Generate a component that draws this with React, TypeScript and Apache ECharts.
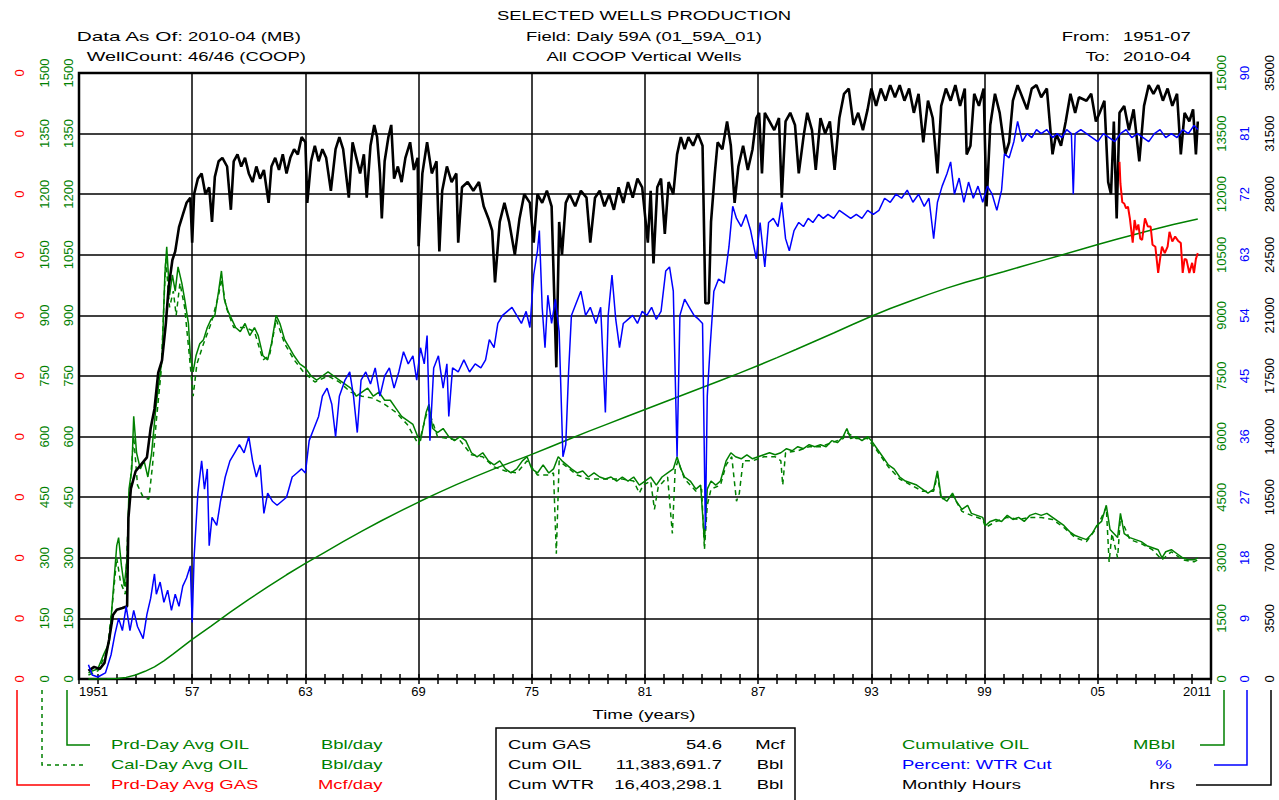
import React, { useEffect, useRef } from "react";
import * as echarts from "echarts";

// ---------- data ----------
const xMin = 1951;
const xMax = 2011;

// Monthly Hours (hrs), right black axis 0-35000
const monthlyHours: [number, number][] = [
  [1951.5, 470], [1951.8, 700], [1952.1, 580], [1952.35, 930], [1952.6, 2300], [1952.8, 3700],
  [1953.0, 4000], [1953.3, 4100], [1953.55, 4200], [1953.62, 9300], [1953.75, 11000], [1954.0, 12000],
  [1954.3, 12400], [1954.6, 12800], [1954.8, 14500], [1955.0, 15600], [1955.2, 17700], [1955.4, 18400],
  [1955.6, 20500], [1955.75, 22600], [1955.95, 24200], [1956.1, 24700], [1956.3, 26100], [1956.5, 26800],
  [1956.7, 27500], [1956.9, 27800], [1957.0, 25200], [1957.1, 28000], [1957.3, 28900], [1957.5, 29200],
  [1957.7, 28000], [1957.9, 28400], [1958.05, 26400], [1958.2, 29000], [1958.4, 29900], [1958.6, 30100],
  [1958.85, 29600], [1959.05, 27100], [1959.2, 29900], [1959.4, 30300], [1959.6, 29600], [1959.8, 30100],
  [1960.0, 29200], [1960.2, 28700], [1960.4, 29600], [1960.6, 28900], [1960.8, 29400], [1961.05, 27500],
  [1961.2, 29600], [1961.4, 30100], [1961.6, 29400], [1961.8, 30300], [1962.0, 29200], [1962.2, 30100],
  [1962.4, 30600], [1962.6, 30300], [1962.8, 31300], [1963.0, 31000], [1963.1, 27500], [1963.3, 29900],
  [1963.5, 30800], [1963.7, 29900], [1963.9, 30600], [1964.1, 30100], [1964.35, 28200], [1964.6, 30600],
  [1964.8, 31300], [1965.0, 30600], [1965.3, 27800], [1965.5, 31000], [1965.7, 30100], [1965.9, 29200],
  [1966.1, 30300], [1966.25, 27800], [1966.45, 30800], [1966.65, 32000], [1966.8, 31300], [1966.95, 29200],
  [1967.05, 26600], [1967.2, 29900], [1967.4, 31300], [1967.55, 32000], [1967.7, 28900], [1967.9, 29600],
  [1968.1, 28700], [1968.3, 30100], [1968.55, 31000], [1968.75, 29400], [1968.95, 30100], [1969.0, 25000],
  [1969.2, 29200], [1969.45, 31000], [1969.7, 29200], [1969.95, 29900], [1970.1, 24700], [1970.25, 28200],
  [1970.5, 29600], [1970.75, 28700], [1971.0, 29200], [1971.1, 25200], [1971.3, 28400], [1971.6, 28700],
  [1971.9, 28200], [1972.2, 28700], [1972.45, 27300], [1972.7, 26600], [1972.9, 25900], [1973.05, 22900],
  [1973.3, 26400], [1973.55, 27500], [1973.8, 26400], [1974.1, 24500], [1974.35, 26600], [1974.6, 28000],
  [1974.9, 27500], [1975.1, 25200], [1975.3, 28000], [1975.55, 27500], [1975.8, 28200], [1976.05, 27300],
  [1976.3, 18000], [1976.45, 26400], [1976.6, 24500], [1976.8, 27500], [1977.0, 28000], [1977.3, 27300],
  [1977.6, 28200], [1977.9, 27800], [1978.1, 25200], [1978.35, 27800], [1978.6, 28200], [1978.85, 27300],
  [1979.1, 28000], [1979.35, 27100], [1979.6, 28400], [1979.85, 27500], [1980.1, 28700], [1980.35, 27800],
  [1980.6, 28900], [1980.85, 28400], [1981.15, 25200], [1981.3, 28200], [1981.45, 24000], [1981.65, 28400],
  [1981.85, 28900], [1982.05, 25700], [1982.25, 28700], [1982.5, 28000], [1982.7, 30300], [1982.9, 31300],
  [1983.1, 30600], [1983.3, 31300], [1983.55, 30800], [1983.8, 31500], [1984.05, 30800], [1984.2, 21700],
  [1984.38, 21700], [1984.5, 26400], [1984.7, 29200], [1984.85, 31000], [1985.1, 30600], [1985.35, 32200],
  [1985.55, 30800], [1985.75, 27500], [1985.95, 29600], [1986.2, 30800], [1986.45, 29400], [1986.7, 30600],
  [1986.9, 32400], [1987.05, 32700], [1987.2, 29200], [1987.35, 32700], [1987.6, 32200], [1987.85, 31700],
  [1988.1, 32400], [1988.25, 27800], [1988.45, 32200], [1988.7, 32700], [1988.95, 32000], [1989.15, 29200],
  [1989.4, 31300], [1989.6, 32700], [1989.85, 31700], [1990.05, 29400], [1990.3, 32400], [1990.55, 31500],
  [1990.8, 32200], [1991.05, 29400], [1991.3, 32400], [1991.55, 33800], [1991.8, 34100], [1992.05, 32000],
  [1992.3, 32700], [1992.55, 31700], [1992.8, 32900], [1993.0, 34100], [1993.25, 33100], [1993.5, 34100],
  [1993.75, 33400], [1994.0, 34300], [1994.25, 33600], [1994.5, 34300], [1994.75, 33400], [1995.0, 34100],
  [1995.25, 32700], [1995.5, 33800], [1995.75, 31000], [1996.0, 33400], [1996.25, 32400], [1996.5, 29200],
  [1996.7, 33100], [1996.95, 34100], [1997.2, 33400], [1997.45, 34300], [1997.7, 33100], [1997.95, 34100],
  [1998.05, 30300], [1998.25, 30800], [1998.45, 33800], [1998.7, 33100], [1998.95, 34100], [1999.1, 27300],
  [1999.3, 32000], [1999.55, 33800], [1999.8, 32700], [2000.1, 30300], [2000.3, 31000], [2000.5, 33400],
  [2000.75, 34300], [2001.0, 33600], [2001.25, 32900], [2001.5, 34100], [2001.75, 34300], [2002.0, 33600],
  [2002.3, 34100], [2002.6, 30300], [2002.8, 31500], [2003.05, 30800], [2003.3, 32200], [2003.55, 33800],
  [2003.8, 32700], [2004.0, 33600], [2004.4, 33400], [2004.65, 33800], [2004.9, 32200], [2005.1, 32700],
  [2005.35, 33400], [2005.55, 28700], [2005.7, 28000], [2005.85, 32200], [2006.0, 26600], [2006.15, 32700],
  [2006.4, 33100], [2006.65, 31700], [2006.9, 32900], [2007.2, 29900], [2007.45, 33100], [2007.7, 34300],
  [2007.95, 33800], [2008.2, 34300], [2008.45, 33400], [2008.7, 34100], [2008.95, 33100], [2009.2, 33800],
  [2009.4, 30300], [2009.6, 32700], [2009.85, 32200], [2010.05, 32900], [2010.2, 30300], [2010.3, 32200],
];

// Percent WTR cut (%), right blue axis 0-90
const waterCut: [number, number][] = [
  [1951.5, 2.1], [1951.7, 0.6], [1952.0, 0.3], [1952.4, 0.9], [1952.7, 3.6], [1952.9, 6.6],
  [1953.1, 9.0], [1953.3, 7.2], [1953.5, 10.8], [1953.7, 7.2], [1953.9, 10.2], [1954.1, 7.8],
  [1954.4, 6.0], [1954.6, 9.6], [1954.8, 12.0], [1955.0, 15.6], [1955.1, 12.6], [1955.3, 14.4],
  [1955.5, 11.4], [1955.7, 13.2], [1955.9, 10.2], [1956.1, 12.6], [1956.3, 10.8], [1956.5, 13.8],
  [1956.7, 15.0], [1956.9, 16.8], [1957.0, 8.4], [1957.1, 18.0], [1957.3, 27.6], [1957.5, 32.4],
  [1957.65, 28.2], [1957.8, 31.2], [1957.9, 19.8], [1958.05, 24.0], [1958.3, 22.8], [1958.5, 26.4],
  [1958.75, 30.0], [1959.0, 32.4], [1959.25, 33.6], [1959.5, 34.8], [1959.75, 33.6], [1960.0, 36.0],
  [1960.2, 32.4], [1960.4, 30.0], [1960.6, 31.8], [1960.8, 24.6], [1961.0, 27.6], [1961.25, 26.4],
  [1961.5, 25.8], [1961.75, 26.4], [1962.0, 27.0], [1962.3, 30.0], [1962.55, 30.6], [1962.8, 31.2],
  [1963.0, 30.6], [1963.2, 35.4], [1963.45, 37.2], [1963.7, 39.0], [1963.9, 42.0], [1964.15, 43.2],
  [1964.4, 40.8], [1964.6, 36.0], [1964.8, 42.0], [1965.1, 44.4], [1965.35, 45.6], [1965.55, 42.0],
  [1965.75, 36.6], [1965.95, 44.4], [1966.2, 45.6], [1966.45, 43.8], [1966.7, 46.2], [1966.95, 42.0],
  [1967.2, 45.0], [1967.45, 46.2], [1967.7, 43.2], [1967.95, 45.6], [1968.2, 48.6], [1968.45, 46.8],
  [1968.7, 48.0], [1968.9, 44.4], [1969.1, 49.2], [1969.3, 46.8], [1969.45, 51.0], [1969.6, 35.4],
  [1969.8, 46.2], [1970.05, 48.0], [1970.3, 43.2], [1970.5, 46.8], [1970.6, 39.0], [1970.8, 46.2],
  [1971.1, 45.6], [1971.4, 47.4], [1971.7, 45.6], [1972.0, 46.8], [1972.3, 46.2], [1972.55, 47.4],
  [1972.75, 50.4], [1973.0, 49.2], [1973.2, 52.8], [1973.45, 54.0], [1973.7, 54.6], [1973.95, 55.2],
  [1974.2, 54.0], [1974.45, 52.8], [1974.7, 54.6], [1974.9, 52.2], [1975.1, 60.0], [1975.3, 63.6],
  [1975.4, 66.6], [1975.55, 55.2], [1975.7, 49.2], [1975.85, 57.0], [1976.05, 52.8], [1976.25, 56.4],
  [1976.45, 51.6], [1976.65, 33.0], [1976.8, 34.8], [1976.95, 45.6], [1977.1, 54.0], [1977.35, 55.8],
  [1977.6, 57.6], [1977.85, 54.0], [1978.1, 55.2], [1978.4, 52.8], [1978.65, 55.2], [1978.9, 39.6],
  [1979.05, 54.0], [1979.25, 60.0], [1979.45, 53.4], [1979.65, 49.2], [1979.85, 52.8], [1980.1, 53.4],
  [1980.35, 54.0], [1980.6, 52.8], [1980.85, 54.6], [1981.1, 54.0], [1981.35, 55.2], [1981.6, 53.4],
  [1981.85, 54.6], [1982.1, 60.6], [1982.3, 61.2], [1982.5, 57.6], [1982.7, 33.0], [1982.85, 54.0],
  [1983.1, 56.4], [1983.35, 55.2], [1983.6, 54.0], [1983.85, 53.4], [1984.05, 52.8], [1984.2, 22.2],
  [1984.3, 42.0], [1984.45, 49.2], [1984.65, 57.6], [1984.9, 59.4], [1985.2, 58.8], [1985.45, 64.2],
  [1985.65, 70.2], [1985.85, 68.4], [1986.1, 67.2], [1986.35, 69.0], [1986.6, 66.6], [1986.9, 62.4],
  [1987.1, 67.8], [1987.35, 61.2], [1987.55, 67.8], [1987.8, 68.4], [1988.05, 67.2], [1988.25, 70.8],
  [1988.45, 65.4], [1988.65, 63.6], [1988.9, 66.6], [1989.15, 67.8], [1989.4, 67.2], [1989.65, 68.4],
  [1989.9, 67.8], [1990.2, 69.0], [1990.45, 68.4], [1990.7, 69.0], [1991.0, 68.4], [1991.3, 69.6],
  [1991.6, 69.0], [1991.9, 68.4], [1992.2, 69.0], [1992.5, 68.4], [1992.8, 69.6], [1993.1, 69.0],
  [1993.4, 69.6], [1993.7, 71.4], [1994.0, 70.8], [1994.3, 72.0], [1994.6, 71.4], [1994.9, 72.6],
  [1995.2, 70.8], [1995.5, 72.0], [1995.8, 70.2], [1996.05, 71.4], [1996.3, 65.4], [1996.5, 70.8],
  [1996.75, 73.2], [1997.0, 75.0], [1997.2, 76.8], [1997.4, 72.0], [1997.65, 74.4], [1997.9, 70.8],
  [1998.15, 73.8], [1998.4, 71.4], [1998.65, 73.2], [1998.9, 70.8], [1999.15, 73.2], [1999.4, 72.0],
  [1999.65, 69.6], [1999.9, 72.6], [2000.05, 78.0], [2000.3, 77.4], [2000.55, 79.8], [2000.75, 82.8],
  [2001.0, 79.8], [2001.25, 81.0], [2001.5, 80.4], [2001.75, 81.6], [2002.0, 81.0], [2002.3, 81.6],
  [2002.6, 80.4], [2002.85, 81.0], [2003.1, 80.4], [2003.35, 81.6], [2003.6, 81.0], [2003.7, 72.0],
  [2003.8, 81.0], [2004.1, 81.6], [2004.4, 81.0], [2004.7, 80.4], [2005.0, 79.8], [2005.3, 81.0],
  [2005.6, 80.4], [2005.9, 79.8], [2006.2, 81.0], [2006.5, 81.6], [2006.8, 80.4], [2007.1, 81.0],
  [2007.4, 80.4], [2007.7, 79.8], [2008.0, 81.0], [2008.3, 81.6], [2008.6, 80.4], [2008.9, 81.0],
  [2009.2, 80.4], [2009.5, 81.6], [2009.8, 81.0], [2010.1, 82.2], [2010.3, 81.6],
];

// Prd-Day Avg OIL (Bbl/day), left green axis 0-1500
const prdDayOil: [number, number][] = [
  [1951.5, 15], [1951.7, 20], [1952.0, 25], [1952.3, 60], [1952.6, 90], [1952.75, 180],
  [1952.85, 240], [1953.0, 330], [1953.1, 350], [1953.25, 280], [1953.4, 230], [1953.55, 300],
  [1953.65, 470], [1953.8, 520], [1953.9, 650], [1954.05, 560], [1954.25, 520], [1954.45, 540],
  [1954.65, 500], [1954.85, 560], [1955.05, 660], [1955.25, 740], [1955.4, 790], [1955.55, 1000],
  [1955.65, 1070], [1955.8, 950], [1955.95, 1000], [1956.1, 960], [1956.25, 1020], [1956.45, 980],
  [1956.6, 940], [1956.8, 880], [1956.9, 800], [1957.05, 760], [1957.2, 800], [1957.4, 830],
  [1957.6, 840], [1957.8, 870], [1958.0, 890], [1958.2, 900], [1958.4, 960], [1958.55, 1010],
  [1958.7, 940], [1958.9, 910], [1959.1, 890], [1959.3, 870], [1959.55, 860], [1959.8, 880],
  [1960.05, 850], [1960.3, 870], [1960.5, 850], [1960.75, 800], [1961.0, 790], [1961.2, 830],
  [1961.45, 900], [1961.65, 880], [1961.9, 840], [1962.15, 820], [1962.4, 800], [1962.7, 780],
  [1963.0, 770], [1963.3, 750], [1963.6, 740], [1963.9, 750], [1964.2, 760], [1964.5, 750],
  [1964.8, 740], [1965.1, 730], [1965.4, 720], [1965.7, 700], [1966.0, 710], [1966.3, 720],
  [1966.6, 700], [1966.9, 710], [1967.2, 690], [1967.5, 690], [1967.8, 670], [1968.1, 650],
  [1968.4, 640], [1968.7, 630], [1968.95, 600], [1969.1, 590], [1969.4, 660], [1969.55, 680],
  [1969.75, 620], [1970.0, 610], [1970.3, 620], [1970.6, 600], [1970.9, 590], [1971.2, 600],
  [1971.5, 590], [1971.8, 560], [1972.1, 550], [1972.4, 560], [1972.7, 540], [1973.0, 530],
  [1973.3, 540], [1973.6, 520], [1973.9, 510], [1974.2, 520], [1974.5, 540], [1974.75, 550],
  [1975.0, 520], [1975.3, 510], [1975.6, 530], [1975.9, 510], [1976.15, 520], [1976.4, 550],
  [1976.6, 540], [1976.85, 530], [1977.1, 520], [1977.4, 510], [1977.7, 515], [1978.0, 500],
  [1978.3, 510], [1978.6, 500], [1978.9, 495], [1979.2, 500], [1979.5, 490], [1979.8, 500],
  [1980.1, 490], [1980.4, 500], [1980.7, 480], [1981.0, 490], [1981.3, 500], [1981.6, 480],
  [1981.9, 500], [1982.2, 510], [1982.5, 520], [1982.7, 550], [1982.9, 520], [1983.1, 500],
  [1983.4, 490], [1983.7, 470], [1983.95, 480], [1984.15, 340], [1984.3, 470], [1984.5, 490],
  [1984.75, 480], [1985.0, 490], [1985.3, 540], [1985.55, 560], [1985.8, 550], [1986.1, 545],
  [1986.4, 555], [1986.7, 545], [1987.0, 550], [1987.3, 555], [1987.6, 560], [1987.9, 555],
  [1988.2, 560], [1988.5, 570], [1988.8, 565], [1989.1, 575], [1989.4, 570], [1989.7, 580],
  [1990.0, 575], [1990.3, 580], [1990.6, 575], [1990.9, 590], [1991.2, 585], [1991.5, 600],
  [1991.7, 620], [1991.9, 595], [1992.2, 600], [1992.5, 590], [1992.8, 600], [1993.0, 590],
  [1993.3, 570], [1993.6, 550], [1993.9, 530], [1994.2, 520], [1994.5, 500], [1994.8, 490],
  [1995.1, 485], [1995.4, 480], [1995.7, 470], [1996.0, 460], [1996.3, 470], [1996.5, 515],
  [1996.7, 450], [1997.0, 440], [1997.3, 460], [1997.5, 440], [1997.8, 420], [1998.1, 430],
  [1998.3, 410], [1998.6, 405], [1998.9, 400], [1999.05, 380], [1999.3, 390], [1999.6, 395],
  [1999.9, 390], [2000.2, 405], [2000.5, 395], [2000.8, 400], [2001.1, 390], [2001.4, 405],
  [2001.7, 410], [2002.0, 405], [2002.3, 410], [2002.6, 400], [2002.9, 390], [2003.2, 380],
  [2003.5, 365], [2003.8, 355], [2004.1, 350], [2004.4, 345], [2004.7, 360], [2004.95, 380],
  [2005.2, 390], [2005.45, 430], [2005.65, 370], [2005.85, 360], [2006.05, 350], [2006.2, 410],
  [2006.4, 360], [2006.7, 350], [2007.0, 345], [2007.3, 340], [2007.6, 330], [2007.9, 325],
  [2008.2, 320], [2008.4, 300], [2008.6, 315], [2008.9, 320], [2009.2, 310], [2009.5, 300],
  [2009.8, 295], [2010.1, 295], [2010.3, 300],
];

// Cal-Day Avg OIL (Bbl/day), dashed
const calDayOil: [number, number][] = [
  [1951.5, 10], [1952.0, 20], [1952.5, 70], [1952.8, 200], [1953.0, 300], [1953.2, 240],
  [1953.45, 210], [1953.65, 440], [1953.9, 600], [1954.1, 480], [1954.4, 450], [1954.7, 445],
  [1954.9, 530], [1955.1, 640], [1955.35, 760], [1955.6, 1040], [1955.8, 920], [1956.0, 960],
  [1956.15, 900], [1956.35, 980], [1956.6, 920], [1956.85, 800], [1957.05, 700], [1957.25, 780],
  [1957.6, 830], [1958.0, 880], [1958.4, 950], [1958.55, 990], [1958.8, 920], [1959.2, 870],
  [1959.8, 870], [1960.3, 860], [1960.75, 790], [1961.1, 800], [1961.45, 890], [1961.9, 830],
  [1962.4, 790], [1962.9, 760], [1963.5, 735], [1964.2, 750], [1964.8, 735], [1965.4, 710],
  [1966.0, 700], [1966.6, 695], [1967.2, 680], [1967.8, 660], [1968.4, 630], [1969.0, 580],
  [1969.5, 670], [1970.0, 600], [1970.6, 595], [1971.2, 590], [1971.8, 555], [1972.4, 550],
  [1973.0, 525], [1973.6, 515], [1974.2, 510], [1974.75, 540], [1975.3, 505], [1975.9, 505],
  [1976.15, 510], [1976.3, 310], [1976.45, 540], [1976.85, 525], [1977.4, 505], [1978.0, 495],
  [1978.6, 495], [1979.2, 495], [1979.8, 495], [1980.4, 490], [1980.7, 460], [1980.9, 480],
  [1981.3, 490], [1981.5, 420], [1981.7, 475], [1982.2, 500], [1982.45, 360], [1982.6, 520],
  [1982.75, 540], [1983.1, 495], [1983.7, 465], [1984.0, 470], [1984.15, 320], [1984.3, 430],
  [1984.5, 470], [1985.0, 480], [1985.3, 530], [1985.6, 550], [1985.85, 440], [1986.0, 460],
  [1986.2, 540], [1986.7, 540], [1987.3, 550], [1987.9, 550], [1988.2, 540], [1988.3, 480],
  [1988.45, 560], [1989.1, 565], [1989.7, 575], [1990.3, 575], [1990.9, 585], [1991.5, 595],
  [1991.7, 610], [1992.2, 595], [1992.8, 595], [1993.3, 565], [1993.9, 525], [1994.5, 495],
  [1995.1, 480], [1995.7, 465], [1996.3, 465], [1996.5, 505], [1996.7, 445], [1997.3, 455],
  [1997.8, 415], [1998.3, 405], [1998.9, 395], [1999.05, 375], [1999.6, 390], [2000.2, 400],
  [2000.8, 395], [2001.4, 400], [2002.0, 400], [2002.6, 395], [2003.2, 375], [2003.8, 350],
  [2004.4, 340], [2004.95, 375], [2005.45, 425], [2005.6, 290], [2005.75, 360], [2006.05, 300],
  [2006.2, 400], [2006.7, 345], [2007.3, 335], [2007.9, 320], [2008.4, 295], [2008.9, 315],
  [2009.5, 295], [2010.1, 290], [2010.3, 295],
];

// Prd-Day Avg GAS (Mcf/day), left red axis
const prdDayGas: [number, number][] = [
  [2006.15, 0.128], [2006.2, 0.1226], [2006.3, 0.118], [2006.4, 0.1177], [2006.5, 0.1165],
  [2006.6, 0.1169], [2006.7, 0.114], [2006.85, 0.108], [2006.95, 0.1136], [2007.05, 0.1111],
  [2007.15, 0.1125], [2007.25, 0.109], [2007.35, 0.1087], [2007.5, 0.114], [2007.65, 0.112],
  [2007.8, 0.112], [2007.9, 0.1075], [2008.05, 0.107], [2008.2, 0.1005], [2008.3, 0.104],
  [2008.4, 0.107], [2008.55, 0.1054], [2008.7, 0.107], [2008.8, 0.1107], [2008.95, 0.1083],
  [2009.1, 0.1095], [2009.25, 0.1085], [2009.4, 0.1079], [2009.5, 0.1005], [2009.6, 0.104],
  [2009.7, 0.1038], [2009.85, 0.1005], [2010.0, 0.103], [2010.1, 0.1005], [2010.2, 0.104],
  [2010.3, 0.1054],
];

// Cumulative OIL (MBbl), right green axis 0-15000
const cumOil: [number, number][] = [
  [1951.5, 0], [1952.0, 2], [1952.5, 6], [1953.0, 15], [1953.5, 40], [1954.0, 100], [1954.5, 190],
  [1955.0, 300], [1955.5, 450], [1956.0, 620], [1956.5, 800], [1957.0, 980], [1958.0, 1310],
  [1959.0, 1650], [1960.0, 1970], [1961.0, 2280], [1962.0, 2580], [1963.0, 2860], [1964.0, 3130],
  [1965.0, 3400], [1966.0, 3660], [1967.0, 3910], [1968.0, 4150], [1969.0, 4380], [1970.0, 4600],
  [1971.0, 4810], [1972.0, 5010], [1973.0, 5200], [1974.0, 5380], [1975.0, 5560], [1976.0, 5750],
  [1977.0, 5940], [1978.0, 6130], [1979.0, 6310], [1980.0, 6490], [1981.0, 6670], [1982.0, 6850],
  [1983.0, 7030], [1984.0, 7210], [1985.0, 7390], [1986.0, 7570], [1987.0, 7760], [1988.0, 7955],
  [1989.0, 8155], [1990.0, 8360], [1991.0, 8565], [1992.0, 8775], [1993.0, 8980], [1994.0, 9170],
  [1995.0, 9345], [1996.0, 9515], [1997.0, 9675], [1998.0, 9820], [1999.0, 9950], [2000.0, 10080],
  [2001.0, 10215], [2002.0, 10350], [2003.0, 10485], [2004.0, 10620], [2005.0, 10755],
  [2006.0, 10885], [2007.0, 11010], [2008.0, 11130], [2009.0, 11250], [2010.3, 11384],
];

const headerLeft = [["Data As Of:", "2010-04 (MB)"], ["WellCount:", "46/46 (COOP)"]];
const headerCenter = ["SELECTED WELLS PRODUCTION", "Field: Daly 59A (01_59A_01)", "All COOP Vertical Wells"];
const headerRight = [["From:", "1951-07"], ["To:", "2010-04"]];
const cumRows = [["Cum GAS", "54.6", "Mcf"], ["Cum OIL", "11,383,691.7", "Bbl"], ["Cum WTR", "16,403,298.1", "Bbl"]];

const GREEN = "#008000";
const BLUE = "#0000ff";
const RED = "#ff0000";
const BLACK = "#000000";
const FONT = '"Liberation Sans", Arial, sans-serif';
const SX = 1.42;

function txt(text: string, x: number, y: number, align = "left", fill = BLACK, sx = SX) {
  return {
    type: "text",
    x,
    y,
    scaleX: sx,
    silent: true,
    style: {
      text,
      fill,
      font: `13px ${FONT}`,
      textAlign: align,
      textVerticalAlign: "middle",
      verticalAlign: "middle",
    },
  };
}

function pl(points: number[][], stroke: string, dash?: number[]) {
  return {
    type: "polyline",
    silent: true,
    shape: { points },
    style: { stroke, lineWidth: 1.5, fill: null, lineDash: dash || null },
  };
}

function yAx(opts: any) {
  const { color, offset, position, min, max, interval, formatter, split } = opts;
  return {
    type: "value",
    position,
    offset,
    min,
    max,
    interval,
    axisLine: { show: false },
    axisTick: { show: false },
    splitLine: { show: !!split, lineStyle: { color: BLACK, width: 1.5 } },
    axisLabel: {
      show: true,
      rotate: 90,
      color,
      fontFamily: FONT,
      fontSize: 13,
      margin: 4,
      hideOverlap: false,
      showMinLabel: true,
      showMaxLabel: true,
      formatter: formatter || ((v: number) => String(v)),
    },
  };
}

export default function App() {
  const ref = useRef<HTMLDivElement>(null);
  useEffect(() => {
    if (!ref.current) return;
    const chart = echarts.init(ref.current, null, { renderer: "svg" });

    const xCommon = {
      type: "value",
      min: xMin,
      max: xMax,
      interval: 6,
      axisLine: { show: false },
      axisTick: { show: true, inside: true, length: 5, lineStyle: { color: BLACK, width: 1.5 } },
      minorTick: { show: true, splitNumber: 6, length: 5, lineStyle: { color: BLACK, width: 1.5 } },
    };

    const graphic: any[] = [];
    headerLeft.forEach((r, i) => {
      graphic.push(txt(r[0], 183, 37 + i * 20, "right", BLACK, i === 0 ? 1.6 : 1.52));
      graphic.push(txt(r[1], 188, 37 + i * 20, "left"));
    });
    headerCenter.forEach((t, i) => graphic.push(txt(t, 644, 16 + i * 20.5, "center")));
    headerRight.forEach((r, i) => {
      graphic.push(txt(r[0], 1110, 37 + i * 20, "right"));
      graphic.push(txt(r[1], 1123, 37 + i * 20, "left"));
    });
    graphic.push(txt("Time (years)", 644, 715, "center"));

    // left legend
    graphic.push(pl([[67, 690], [67, 745], [90, 745]], GREEN));
    graphic.push(pl([[42, 690], [42, 765], [84, 765]], GREEN, [4, 4]));
    graphic.push(pl([[17, 690], [17, 785], [90, 785]], RED));
    graphic.push(txt("Prd-Day Avg OIL", 111, 745, "left", GREEN));
    graphic.push(txt("Cal-Day Avg OIL", 111, 765, "left", GREEN));
    graphic.push(txt("Prd-Day Avg GAS", 111, 785, "left", RED));
    graphic.push(txt("Bbl/day", 321, 745, "left", GREEN));
    graphic.push(txt("Bbl/day", 321, 765, "left", GREEN));
    graphic.push(txt("Mcf/day", 318, 785, "left", RED));

    // center box
    graphic.push({
      type: "rect",
      silent: true,
      shape: { x: 496, y: 728, width: 299, height: 80 },
      style: { stroke: BLACK, lineWidth: 1.5, fill: null },
    });
    cumRows.forEach((r, i) => {
      const y = 745 + i * 20;
      graphic.push(txt(r[0], 508, y, "left"));
      graphic.push(txt(r[1], 722, y, "right"));
      graphic.push(txt(r[2], 770, y, "center"));
    });

    // right legend
    graphic.push(pl([[1200, 745], [1224, 745], [1224, 690]], GREEN));
    graphic.push(pl([[1214, 765], [1247, 765], [1247, 690]], BLUE));
    graphic.push(pl([[1196, 785], [1271, 785], [1271, 690]], BLACK));
    graphic.push(txt("Cumulative OIL", 902, 745, "left", GREEN));
    graphic.push(txt("Percent: WTR Cut", 902, 765, "left", BLUE));
    graphic.push(txt("Monthly Hours", 902, 785, "left", BLACK));
    graphic.push(txt("MBbl", 1175, 745, "right", GREEN));
    graphic.push(txt("%", 1172, 765, "right", BLUE));
    graphic.push(txt("hrs", 1175, 785, "right", BLACK));

    const line = (name: string, data: any, yAxisIndex: number, color: string, width: number, extra: any = {}) => ({
      name,
      type: "line",
      data,
      yAxisIndex,
      xAxisIndex: 0,
      showSymbol: false,
      symbol: "none",
      lineStyle: { color, width, ...(extra.lineStyle || {}) },
      itemStyle: { color },
      z: extra.z || 2,
      silent: true,
    });

    chart.setOption({
      animation: false,
      backgroundColor: "#ffffff",
      textStyle: { fontFamily: FONT },
      grid: {
        left: 79,
        right: 68,
        top: 73,
        bottom: 121,
        show: true,
        borderColor: BLACK,
        borderWidth: 2.5,
        backgroundColor: "transparent",
      },
      xAxis: [
        {
          ...xCommon,
          position: "bottom",
          splitLine: { show: true, lineStyle: { color: BLACK, width: 1.5 } },
          axisLabel: {
            show: true,
            color: BLACK,
            fontFamily: FONT,
            fontSize: 13,
            margin: 6,
            alignMinLabel: "left",
            alignMaxLabel: "right",
            showMinLabel: true,
            showMaxLabel: true,
            formatter: (v: number) => (v === xMin || v === xMax ? String(v) : String(v).slice(2)),
          },
        },
        {
          ...xCommon,
          position: "top",
          splitLine: { show: false },
          axisLabel: { show: false },
        },
      ],
      yAxis: [
        yAx({ color: GREEN, offset: 0, position: "left", min: 0, max: 1500, interval: 150, split: true }),
        yAx({ color: GREEN, offset: 24, position: "left", min: 0, max: 1500, interval: 150 }),
        yAx({
          color: RED, offset: 49, position: "left", min: 0, max: 0.15, interval: 0.015,
          formatter: (v: number) => String(Math.round(v)),
        }),
        yAx({ color: GREEN, offset: 0, position: "right", min: 0, max: 15000, interval: 1500 }),
        yAx({ color: BLUE, offset: 23, position: "right", min: 0, max: 90, interval: 9 }),
        yAx({ color: BLACK, offset: 48, position: "right", min: 0, max: 35000, interval: 3500 }),
      ],
      series: [
        line("Cumulative OIL", cumOil, 3, GREEN, 1.5, { z: 2 }),
        line("Cal-Day Avg OIL", calDayOil, 1, GREEN, 1.5, { z: 3, lineStyle: { type: [5, 4] } }),
        line("Prd-Day Avg OIL", prdDayOil, 0, GREEN, 1.5, { z: 4 }),
        line("Monthly Hours", monthlyHours, 5, BLACK, 2.6, { z: 5 }),
        line("Percent: WTR Cut", waterCut, 4, BLUE, 1.5, { z: 6 }),
        line("Prd-Day Avg GAS", prdDayGas, 2, RED, 2, { z: 7 }),
      ],
      graphic,
    });

    return () => chart.dispose();
  }, []);

  return (
    <div
      ref={ref}
      style={{ position: "absolute", left: 0, top: 0, width: 1279, height: 800, background: "#fff" }}
    />
  );
}
